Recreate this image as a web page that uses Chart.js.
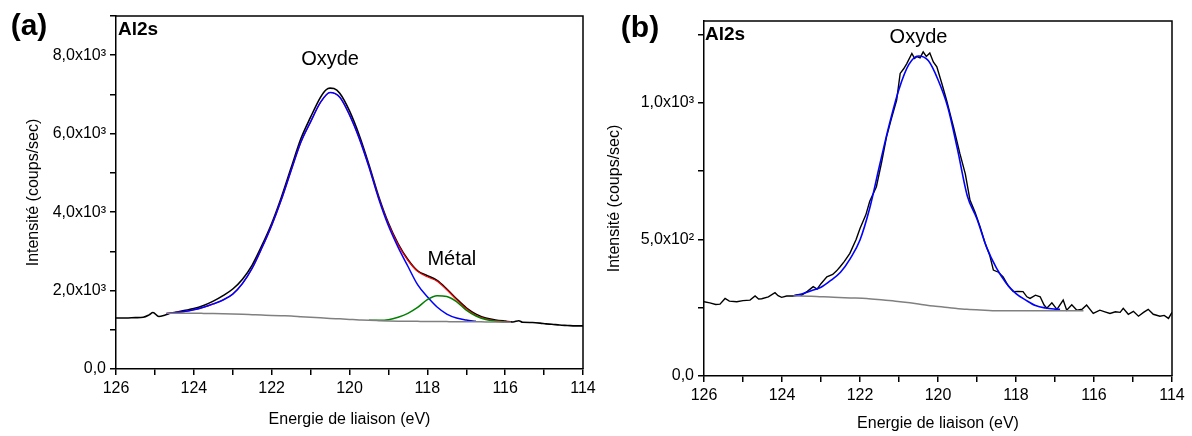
<!DOCTYPE html>
<html lang="fr">
<head>
<meta charset="UTF-8">
<title>Al2s XPS</title>
<script src="https://cdn.jsdelivr.net/npm/chart.js@4.4.1/dist/chart.umd.min.js"></script>
<style>
    html, body { margin: 0; padding: 0; background: #fff; }
    body { width: 1192px; height: 436px; position: relative; overflow: hidden; }
    .panel { position: absolute; top: 0; width: 604px; height: 436px; }
    #wrapA { left: 0; }
    #wrapB { left: 588px; }
</style>
</head>
<body>
<div class="panel" id="wrapA"><canvas id="chartA" width="604" height="436"></canvas></div>
<div class="panel" id="wrapB"><canvas id="chartB" width="604" height="436"></canvas></div>
<script>
// ---- panel (a) ----
const aExpE = [126.0, 125.75, 125.5, 125.3, 125.15, 125.05, 124.9, 124.75, 124.6, 124.4, 124.25, 124.0, 123.75, 123.5, 123.25, 123.0,
    122.75, 122.5, 122.25, 122.0, 121.75, 121.5, 121.25, 121.0, 120.75, 120.6, 120.5, 120.4, 120.25, 120.0, 119.75, 119.5, 119.25,
    119.0, 118.75, 118.5, 118.25, 118.0, 117.75, 117.5, 117.25, 117.0, 116.75, 116.5, 116.25, 116.0, 115.8, 115.65, 115.55, 115.3,
    115.1, 114.95, 114.8, 114.6, 114.4, 114.2, 114.0];
const aExpI = [1300, 1300, 1310, 1320, 1380, 1440, 1340, 1370, 1420, 1460, 1490, 1540, 1620, 1730, 1870, 2040,
    2290, 2650, 3150, 3710, 4380, 5130, 5870, 6420, 6920, 7120, 7160, 7150, 7030, 6580, 5960, 5210, 4400,
    3720, 3190, 2790, 2500, 2380, 2260, 2040, 1790, 1560, 1400, 1300, 1250, 1220, 1200, 1230, 1190, 1185,
    1170, 1150, 1140, 1120, 1110, 1100, 1100];

const aFitE = [124.7, 124.5, 124.25, 124.0, 123.75, 123.5, 123.25, 123.0, 122.75, 122.5, 122.25, 122.0, 121.75, 121.5, 121.25,
    121.0, 120.75, 120.5, 120.25, 120.0, 119.75, 119.5, 119.25, 119.0, 118.75, 118.5, 118.25, 118.0, 117.75, 117.5, 117.25,
    117.0, 116.75, 116.5, 116.25, 116.0, 115.85];
const aOxyde = [1415, 1435, 1465, 1510, 1575, 1660, 1760, 1910, 2180, 2570, 3090, 3660, 4320, 5060, 5780,
    6300, 6790, 7050, 6930, 6480, 5880, 5150, 4340, 3650, 3100, 2620, 2150, 1840, 1580, 1400, 1300,
    1250, 1215, null, null, null, null];
const aEnvelope = [1420, 1435, 1465, 1510, 1575, 1660, 1760, 1910, 2180, 2570, 3090, 3660, 4320, 5060, 5780,
    6300, 6790, 7050, 6930, 6480, 5890, 5160, 4360, 3690, 3170, 2770, 2490, 2350, 2240, 2020, 1770,
    1540, 1370, 1280, 1230, 1205, 1190];
const aMetal = [null, null, null, null, null, null, null, null, null, null, null, null, null, null, null,
    null, null, null, null, null, null, 1240, 1240, 1255, 1320, 1420, 1570, 1770, 1870, 1850, 1720,
    1500, 1350, 1260, 1220, 1200, null];
const aBackground = [1420, 1420, 1420, 1420, 1418, 1415, 1410, 1403, 1395, 1385, 1375, 1365, 1357, 1350, 1335,
    1320, 1305, 1290, 1278, 1265, 1252, 1240, 1232, 1225, 1220, 1218, 1215, 1212, 1210, 1208, 1206,
    1205, 1203, 1200, 1198, 1195, 1195];

const aYTicks = [0, 1000, 2000, 3000, 4000, 5000, 6000, 7000, 8000, 9000];
const aYTickLabels = ['0,0', '', '2,0x10³', '', '4,0x10³', '', '6,0x10³', '', '8,0x10³', ''];

// ---- panel (b) ----
const bExpE = [126.0, 125.85, 125.7, 125.59, 125.46, 125.35, 125.16, 125.0, 124.82, 124.69, 124.6, 124.52, 124.35, 124.18, 124.1,
    124.01, 123.88, 123.71, 123.6, 123.5, 123.35, 123.2, 123.1, 123.0, 122.85, 122.7, 122.6, 122.51, 122.4, 122.26,
    122.1, 122.0, 121.85, 121.75, 121.58, 121.45, 121.32, 121.2, 121.06, 120.97, 120.88, 120.8, 120.67, 120.6, 120.54,
    120.46, 120.38, 120.3, 120.21, 120.12, 120.03, 119.9, 119.78, 119.6, 119.44, 119.3, 119.18, 119.05, 118.92, 118.8,
    118.67, 118.58, 118.45, 118.33, 118.2, 118.07, 117.95, 117.82, 117.72, 117.64, 117.5, 117.38, 117.28, 117.21, 117.08,
    116.95, 116.79, 116.7, 116.57, 116.44, 116.3, 116.19, 116.02, 115.85, 115.72, 115.59, 115.45, 115.33, 115.25, 115.12,
    114.99, 114.86, 114.73, 114.61, 114.48, 114.31, 114.2, 114.09, 114.0];
const bExpI = [272, 268, 262, 263, 284, 274, 272, 276, 278, 293, 282, 283, 290, 305, 294,
    288, 293, 293, 298, 296, 310, 327, 318, 338, 363, 372, 385, 400, 420, 449,
    500, 540, 590, 640, 693, 780, 876, 940, 1010, 1108, 1125, 1144, 1181, 1163, 1170,
    1165, 1187, 1170, 1183, 1150, 1132, 1070, 1010, 910, 815, 740, 644, 600, 546, 490,
    440, 388, 380, 363, 330, 309, 310, 309, 290, 284, 296, 290, 260, 248, 268,
    244, 278, 241, 261, 241, 245, 260, 229, 241, 235, 229, 235, 233, 248, 226,
    237, 219, 233, 244, 226, 219, 222, 211, 233];

const bFitE = [123.71, 123.5, 123.25, 123.0, 122.75, 122.5, 122.25, 122.0, 121.75, 121.5, 121.25, 121.0, 120.75, 120.5, 120.25,
    120.0, 119.75, 119.5, 119.25, 119.0, 118.75, 118.5, 118.25, 118.0, 117.75, 117.5, 117.25, 117.0, 116.87];
const bOxyde = [293, 300, 312, 325, 350, 380, 430, 498, 615, 770, 920, 1050, 1140, 1172, 1155,
    1085, 985, 830, 660, 575, 470, 395, 340, 302, 278, 258, 249, 245, 244];

const bBgE = [123.71, 123.25, 122.68, 122.25, 121.83, 121.4, 120.97, 120.5, 120.12, 119.7, 119.26, 118.8, 118.41, 117.5, 116.27];
const bBackground = [293, 292, 288, 286, 284, 278, 272, 264, 256, 250, 244, 241, 239, 239, 239];

const bYTicks = [0, 250, 500, 750, 1000, 1250];
const bYTickLabels = ['0,0', '', '5,0x10²', '', '1,0x10³', ''];

// shared x axis
const xTicks = [114, 115, 116, 117, 118, 119, 120, 121, 122, 123, 124, 125, 126];
const xTickLabels = ['114', '', '116', '', '118', '', '120', '', '122', '', '124', '', '126'];
const FONT = "'Liberation Sans', Arial, sans-serif";

function pts(xs, ys) {
    return xs.map((x, i) => ({ x: x, y: ys[i] }));
}

function line(xs, ys, color, width, smooth) {
    return {
        data: pts(xs, ys),
        borderColor: color,
        borderWidth: width,
        pointRadius: 0,
        fill: false,
        spanGaps: false,
        tension: smooth ? 0.4 : 0,
        cubicInterpolationMode: smooth ? 'monotone' : 'default'
    };
}

// top and right frame of the plot box
const frame = {
    id: 'frame',
    afterDraw(chart) {
        const { ctx, chartArea: a } = chart;
        ctx.save();
        ctx.strokeStyle = '#000';
        ctx.lineWidth = 1.5;
        ctx.beginPath();
        ctx.moveTo(a.left, a.top);
        ctx.lineTo(a.right, a.top);
        ctx.lineTo(a.right, a.bottom);
        ctx.stroke();
        ctx.restore();
    }
};

// free text labels
const notes = {
    id: 'notes',
    afterDraw(chart, args, opts) {
        const { ctx, chartArea: a, scales } = chart;
        ctx.save();
        ctx.fillStyle = '#000';
        ctx.textBaseline = 'middle';
        (opts.items || []).forEach(n => {
            let px, py;
            if (n.mode === 'data') {
                px = scales.x.getPixelForValue(n.x);
                py = scales.y.getPixelForValue(n.y);
            } else if (n.mode === 'area') {
                px = a.left + n.x;
                py = a.top + n.y;
            } else {
                px = n.x;
                py = n.y;
            }
            ctx.font = n.font;
            ctx.textAlign = n.align || 'center';
            ctx.fillText(n.text, px, py);
        });
        ctx.restore();
    }
};

function axisBase(values, labels) {
    return {
        type: 'linear',
        grid: { drawOnChartArea: false, drawTicks: true, tickLength: 6, color: '#000', lineWidth: 1.5 },
        border: { color: '#000', width: 1.5 },
        afterBuildTicks: s => { s.ticks = values.map(v => ({ value: v })); },
        ticks: {
            color: '#000', font: { family: FONT, size: 16 }, autoSkip: false, maxRotation: 0, padding: 4,
            callback: (v, i) => labels[i]
        }
    };
}

function makePanel(id, p) {
    const x = axisBase(xTicks, xTickLabels);
    x.min = 114;
    x.max = 126;
    x.reverse = true;
    x.title = { display: true, text: 'Energie de liaison (eV)', color: '#000',
        font: { family: FONT, size: 16 }, padding: { top: 0, bottom: p.xTitlePad } };
    x.afterFit = s => { s.height = p.xHeight; };

    const y = axisBase(p.yTicks, p.yTickLabels);
    y.min = 0;
    y.max = p.yMax;
    y.title = { display: true, text: 'Intensité (coups/sec)', color: '#000',
        font: { family: FONT, size: 16 }, padding: { top: p.yTitlePad, bottom: 0 } };
    y.afterFit = s => { s.width = p.yWidth; };

    return new Chart(document.getElementById(id), {
        type: 'line',
        data: { datasets: p.datasets },
        options: {
            responsive: false,
            animation: false,
            devicePixelRatio: 1,
            layout: { padding: { top: p.padTop, right: p.padRight, left: 0, bottom: 0 } },
            plugins: {
                legend: { display: false },
                tooltip: { enabled: false },
                notes: { items: p.notes }
            },
            scales: { x: x, y: y }
        },
        plugins: [frame, notes]
    });
}

makePanel('chartA', {
    yMax: 9000, yTicks: aYTicks, yTickLabels: aYTickLabels,
    padTop: 16, padRight: 21, xHeight: 67, yWidth: 116, xTitlePad: 7, yTitlePad: 24,
    datasets: [
        line(aFitE, aBackground, '#808080', 1.5, true),
        line(aFitE, aMetal, '#008000', 1.5, true),
        line(aFitE, aOxyde, '#0000ff', 1.5, true),
        line(aFitE, aEnvelope, '#ff0000', 1.2, true),
        line(aExpE, aExpI, '#000000', 1.6, true)
    ],
    notes: [
        { mode: 'canvas', text: '(a)', x: 29, y: 27, font: 'bold 30px ' + FONT },
        { mode: 'area', text: 'Al2s', x: 2, y: 14, align: 'left', font: 'bold 19px ' + FONT },
        { mode: 'data', text: 'Oxyde', x: 120.5, y: 7900, font: '20px ' + FONT },
        { mode: 'data', text: 'Métal', x: 117.37, y: 2800, font: '20px ' + FONT }
    ]
});

makePanel('chartB', {
    yMax: 1300, yTicks: bYTicks, yTickLabels: bYTickLabels,
    padTop: 21, padRight: 20, xHeight: 60, yWidth: 116, xTitlePad: 3, yTitlePad: 17,
    datasets: [
        line(bBgE, bBackground, '#808080', 1.5, true),
        line(bFitE, bOxyde, '#0000ff', 1.6, true),
        line(bExpE, bExpI, '#000000', 1.4, false)
    ],
    notes: [
        { mode: 'canvas', text: '(b)', x: 52, y: 29, font: 'bold 30px ' + FONT },
        { mode: 'area', text: 'Al2s', x: 1, y: 14, align: 'left', font: 'bold 19px ' + FONT },
        { mode: 'data', text: 'Oxyde', x: 120.5, y: 1240, font: '20px ' + FONT }
    ]
});
</script>
</body>
</html>
